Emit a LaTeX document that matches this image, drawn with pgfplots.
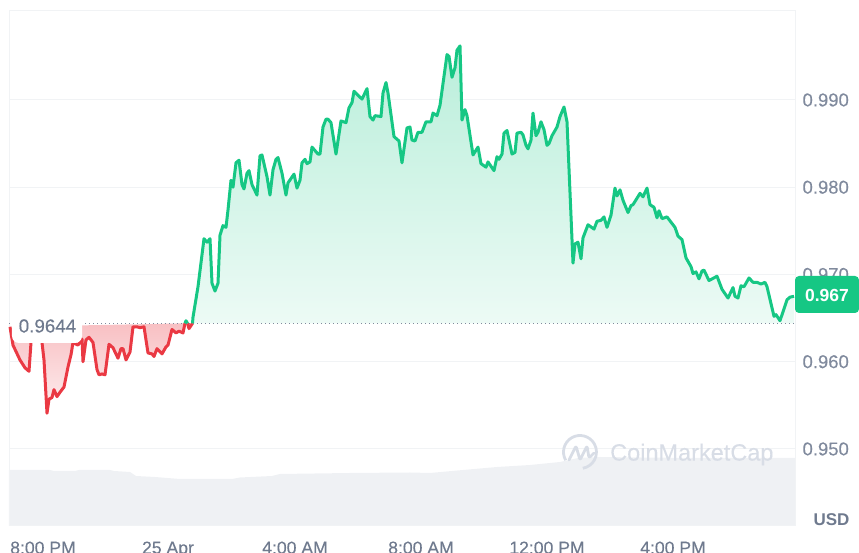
\documentclass[border=0pt]{standalone}
\usepackage{pgfplots}
\pgfplotsset{compat=1.18}
\usepackage{pgfplotstable}
\usepackage{fontspec}
\setmainfont{Liberation Sans}
\newfontfamily\medfont[FakeBold=0.2]{Liberation Sans}
\definecolor{upg}{HTML}{16C784}
\definecolor{downr}{HTML}{EA3943}
\definecolor{ticktxt}{HTML}{808A9D}
\definecolor{xtxt}{HTML}{6F7A8E}
\definecolor{gridc}{HTML}{F1F3F5}
\definecolor{volc}{HTML}{EFF1F4}
\definecolor{wm}{HTML}{D8DDE6}
\pgfplotstableread{
x y
10 0.9640
13 0.9619
20 0.9602
25 0.9593
29 0.9589
31 0.9622
36 0.9637
42 0.9622
44 0.9602
47 0.9541
49 0.9557
52 0.9559
54 0.9568
57 0.9560
60 0.9565
64 0.9571
68 0.9594
71 0.9608
73 0.9622
78 0.9619
82 0.9626
83 0.9600
86 0.9625
89 0.9628
93 0.9622
97 0.9591
99 0.9585
102 0.9586
105 0.9585
109 0.9620
113 0.9616
118 0.9604
121 0.9615
123 0.9615
126 0.9602
130 0.9611
133 0.9640
137 0.9640
140 0.9639
144 0.9640
148 0.9610
152 0.9609
154 0.9606
157 0.9615
162 0.9609
166 0.9617
168 0.9619
172 0.9637
176 0.9633
179 0.9635
183 0.9633
185 0.9644
}\redtbl
\pgfplotstableread{
x y
187.5 0.9644
189 0.9638
192.5 0.9644
}\redtail
\pgfplotstableread{
x y
185 0.9644
186 0.9647
187.5 0.9644
}\greenbit
\pgfplotstableread{
x y
192.5 0.9644
193 0.9651
198 0.9686
204 0.9741
207 0.9737
210 0.9741
212 0.9690
215 0.9681
218 0.9690
220 0.9745
223 0.9756
226 0.9754
228 0.9774
231 0.9808
233 0.9800
236 0.9828
239 0.9831
242 0.9803
244 0.9798
247 0.9816
249 0.9819
252 0.9803
257 0.9791
260 0.9836
262 0.9837
267 0.9812
270 0.9791
273 0.9820
276 0.9832
278 0.9834
282 0.9816
286 0.9791
288 0.9805
294 0.9815
297 0.9799
300 0.9808
302 0.9828
305 0.9832
307 0.9827
310 0.9829
312 0.9846
318 0.9838
320 0.9838
323 0.9869
326 0.9878
328 0.9878
331 0.9874
336 0.9838
341 0.9876
346 0.9874
349 0.9891
352 0.9897
354 0.9910
362 0.9901
367 0.9913
370 0.9881
373 0.9877
375 0.9882
381 0.9881
383 0.9908
386 0.9920
388 0.9908
394 0.9858
399 0.9853
402 0.9828
407 0.9868
410 0.9869
412 0.9854
415 0.9853
418 0.9863
422 0.9863
426 0.9875
431 0.9875
433 0.9885
437 0.9882
440 0.9894
447 0.9952
449 0.9950
452 0.9926
455 0.9937
457 0.9957
460 0.9962
462 0.9877
465 0.9889
467 0.9882
473 0.9837
478 0.9846
481 0.9827
486 0.9823
488 0.9829
494 0.9819
497 0.9835
499 0.9832
502 0.9838
504 0.9862
507 0.9865
512 0.9838
515 0.9840
517 0.9862
521 0.9863
523 0.9860
526 0.9848
528 0.9844
531 0.9854
533 0.9885
536 0.9859
538 0.9863
541 0.9875
544 0.9866
547 0.9848
549 0.9850
552 0.9859
557 0.9869
560 0.9881
564 0.9892
567 0.9875
573 0.9713
575 0.9735
578 0.9737
581 0.9718
583 0.9742
588 0.9757
594 0.9752
597 0.9761
601 0.9762
604 0.9766
607 0.9754
611 0.9768
615 0.9799
617 0.9790
620 0.9797
623 0.9785
628 0.9771
631 0.9779
633 0.9780
640 0.9793
643 0.9789
647 0.9799
650 0.9780
654 0.9777
657 0.9765
659 0.9773
662 0.9764
667 0.9766
675 0.9754
678 0.9744
682 0.9740
686 0.9719
691 0.9709
693 0.9701
696 0.9703
699 0.9695
702 0.9704
704 0.9705
709 0.9693
717 0.9698
722 0.9683
728 0.9673
733 0.9685
735 0.9675
738 0.9673
741 0.9687
744 0.9686
749 0.9696
753 0.9691
757 0.9691
761 0.9689
765 0.9691
767 0.9686
774 0.9652
776 0.9654
780 0.9647
787 0.9671
790 0.9674
794 0.9675
}\greentbl
\begin{document}
\begin{tikzpicture}[x=1pt,y=1pt]
\path[use as bounding box] (-9pt,-27pt) rectangle (850pt,526pt);
% volume
\begin{axis}[at={(0pt,0pt)},anchor=south west,scale only axis,width=786pt,height=515pt,
  xmin=9,xmax=795,ymin=0,ymax=515,hide axis,clip=true]
\addplot[draw=none,fill=volc] coordinates {
(9,56)(50,56)(54,55)(75,55)(79,56)(110,56)(114,55)(130,54)(136,50)(155,49)(180,47)(232,47)(240,48.5)(272,50)(280,52)(350,53)(410,53.5)(430,53)(463,56)(497,59)(530,61)(560,64)(578,68)(600,69)(640,68.5)(700,68)(795,68)
} \closedcycle;
\end{axis}
% price
\begin{axis}[at={(0pt,0pt)},anchor=south west,scale only axis,width=786pt,height=515pt,
  xmin=9,xmax=795,ymin=0.94117,ymax=1.0002,clip=false,
  axis line style={draw=gridc,line width=1pt},
  xtick={43,168,295,421,547,673},
  xticklabels={8:00 PM,25 Apr,4:00 AM,8:00 AM,12:00 PM,4:00 PM},
  ytick={0.95,0.96,0.97,0.98,0.99},
  yticklabels={0.950,0.960,0.970,0.980,0.990},
  yticklabel pos=right,
  tick style={draw=none},
  ymajorgrids,
  grid style={draw=gridc,line width=1pt},
  yticklabel style={font=\medfont\fontsize{18.5}{20}\selectfont,text=ticktxt,xshift=4pt,anchor=west},
  xticklabel style={font=\medfont\fontsize{17.6}{20}\selectfont,text=xtxt,yshift=-12pt},
  axis on top=false]
\addplot[draw=none,top color=downr!32!white,bottom color=downr!8!white] table {\redtbl} -- cycle;
\addplot[draw=none,top color=downr!32!white,bottom color=downr!25!white] table {\redtail} -- cycle;
\addplot[draw=none,top color=upg!30!white,bottom color=upg!8!white] table {\greentbl} -- (axis cs:794,0.9644) -- cycle;
\addplot[draw=ticktxt,line width=1pt,dash pattern=on 1pt off 3pt] coordinates {(9,0.9644)(795,0.9644)};
\addplot[downr,line width=3pt,line join=round] table {\redtbl};
\addplot[downr,line width=3pt,line join=round] table {\redtail};
\addplot[upg,line width=3pt,line join=round] table {\greenbit};
\addplot[upg,line width=3pt,line join=round] table {\greentbl};
\end{axis}
% annotations in image pixels
\begin{scope}[shift={(-9pt,526pt)},x=1pt,y=-1pt]
\fill[white,rounded corners=7pt] (12,314) rectangle (82,343);
\node[text=xtxt,font=\medfont\fontsize{18.8}{20}\selectfont] at (47.5,326) {0.9644};
\fill[upg,rounded corners=4pt] (795,276) rectangle (859,313);
\node[text=white,font=\fontsize{17.5}{20}\selectfont\bfseries] at (827,295) {0.967};
\node[text=xtxt,font=\fontsize{17}{20}\selectfont\bfseries] at (831.5,519.5) {USD};
\draw[wm,line width=2.8pt] (565.7,460.25) arc[start angle=150,end angle=440,radius=16.5];
\draw[wm,line width=2.8pt,line join=round,line cap=round,rounded corners=2pt] (569,460) -- (576,446) -- (580,460) -- (587,446) -- (589,458) -- (594,453);
\node[text=wm,font=\medfont\fontsize{23.5}{25}\selectfont,anchor=west,inner sep=0pt] at (610,454.5) {CoinMarketCap};
\end{scope}
\end{tikzpicture}
\end{document}
